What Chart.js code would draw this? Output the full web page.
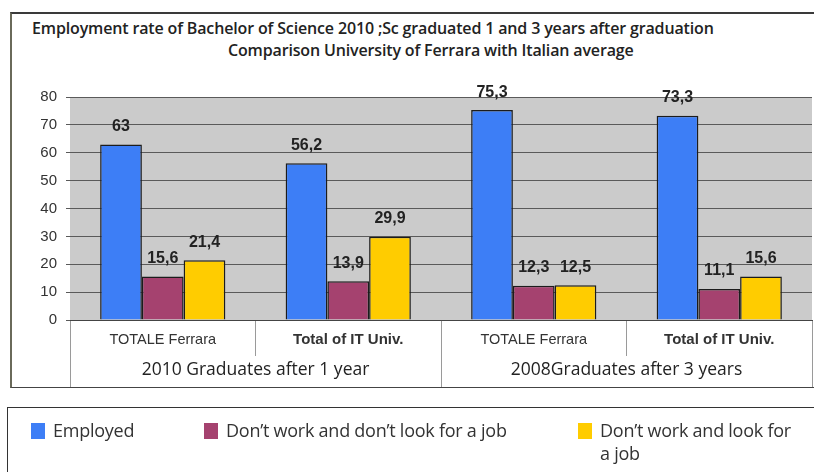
<!DOCTYPE html>
<html>
<head>
<meta charset="utf-8">
<script src="https://cdn.jsdelivr.net/npm/chart.js@4.4.1/dist/chart.umd.min.js"></script>
<style>
  html, body { margin: 0; padding: 0; background: #fff; }
  #wrap { position: relative; width: 814px; height: 472px; overflow: hidden; }
  #chart { position: absolute; left: 0; top: 0; }
  .frame { position: absolute; left: 10px; top: 12px; width: 810px; height: 373px;
           border-top: 2px solid #3a3a3a; border-left: 2px solid #6a6a5a; border-bottom: 1px solid #444; }
  .title { position: absolute; font-family: "Open Sans", sans-serif; font-weight: 600; font-size: 16px;
           color: #222; white-space: nowrap; letter-spacing: -0.15px; line-height: 20px; }
  #legend { position: absolute; left: 7px; top: 407px; width: 820px; height: 80px;
            border-top: 1px solid #333; border-left: 1px solid #333; }
  .item { position: absolute; top: 11px; font-family: "Open Sans", sans-serif; font-size: 18px;
          color: #333; line-height: 23px; letter-spacing: -0.25px; }
  .item i { position: absolute; left: -22px; top: 4px; width: 14px; height: 16px; }
</style>
</head>
<body>
<div id="wrap">
  <div class="frame"></div>
  <div class="title" style="left:32px; top:18px;">Employment rate of Bachelor of Science 2010 ;Sc graduated 1 and 3 years after graduation</div>
  <div class="title" style="left:228px; top:40px;">Comparison University of Ferrara with Italian average</div>
  <canvas id="chart" width="814" height="472"></canvas>
  <div id="legend"></div>
</div>
<script>
const categories = ["TOTALE Ferrara", "Total of IT Univ.", "TOTALE Ferrara", "Total of IT Univ."];
const groups = ["2010 Graduates after 1 year", "2008Graduates after 3 years"];
const seriesNames = ["Employed", "Don’t work and don’t look for a job", "Don’t work and look for a job"];
const employed = [63, 56.2, 75.3, 73.3];
const notLooking = [15.6, 13.9, 12.3, 11.1];
const looking = [21.4, 29.9, 12.5, 15.6];
const yTicks = [0, 10, 20, 30, 40, 50, 60, 70, 80];

const COLORS = ["#3d7ef6", "#a5426f", "#ffcc00"];
const legendX = [30, 203, 577];

const plotBg = {
  id: "plotBg",
  beforeDraw(chart) {
    const { ctx, chartArea: a } = chart;
    ctx.save();
    ctx.fillStyle = "#cbcbcb";
    ctx.fillRect(a.left, a.top, a.right - a.left, a.bottom - a.top);
    ctx.restore();
  },
};

const valueLabels = {
  id: "valueLabels",
  afterDatasetsDraw(chart) {
    const { ctx } = chart;
    ctx.save();
    ctx.font = "bold 16px 'Liberation Sans', Arial, sans-serif";
    ctx.fillStyle = "#222";
    ctx.textAlign = "center";
    ctx.textBaseline = "middle";
    chart.data.datasets.forEach((ds, i) => {
      chart.getDatasetMeta(i).data.forEach((bar, j) => {
        ctx.fillText(String(ds.data[j]).replace(".", ","), bar.x, bar.y - 18);
      });
    });
    ctx.restore();
  },
};

const chart = new Chart(document.getElementById("chart"), {
  type: "bar",
  data: {
    labels: categories,
    datasets: [
      { label: seriesNames[0], data: employed, backgroundColor: COLORS[0] },
      { label: seriesNames[1], data: notLooking, backgroundColor: COLORS[1] },
      { label: seriesNames[2], data: looking, backgroundColor: COLORS[2] },
    ].map(d => ({ ...d, borderColor: "#1c1c1c", borderWidth: 1.5, borderSkipped: "bottom",
                  categoryPercentage: 0.675, barPercentage: 1 })),
  },
  options: {
    responsive: false,
    animation: false,
    devicePixelRatio: 1,
    layout: { padding: { left: 0, top: 97, right: 2, bottom: 85 } },
    plugins: { legend: { display: false }, tooltip: { enabled: false } },
    scales: {
      y: {
        min: 0, max: 80,
        afterBuildTicks: (s) => { s.ticks = yTicks.map(v => ({ value: v })); },
        afterFit: (s) => { s.width = 70; },
        ticks: { color: "#333", padding: 9, font: { family: "'Liberation Sans', Arial", size: 15 } },
        grid: { color: "#5a5a5a", lineWidth: 1, tickLength: 4 },
        border: { display: false },
      },
      x: {
        afterFit: (s) => { s.height = 36; },
        grid: { drawOnChartArea: false, offset: true, tickLength: 36, color: "#9a9a9a" },
        border: { display: true, color: "#444", width: 1 },
        ticks: {
          color: "#333", padding: -25,
          font: (c) => ({ family: "'Liberation Sans', Arial", size: c.index % 2 ? 15 : 14.5, weight: c.index % 2 ? "bold" : "normal" }),
        },
      },
      x2: {
        type: "category",
        position: "bottom",
        labels: groups,
        offset: true,
        afterFit: (s) => { s.height = 31; },
        grid: { drawOnChartArea: false, offset: true, tickLength: 31, color: "#9a9a9a" },
        border: { display: false },
        ticks: { color: "#222", padding: -27, font: { family: "'Open Sans'", size: 17.5, weight: "500" } },
      },
    },
  },
  plugins: [plotBg, valueLabels],
});

// legend built from the datasets
const legend = document.getElementById("legend");
chart.data.datasets.forEach((ds, i) => {
  const el = document.createElement("div");
  el.className = "item";
  el.style.left = (legendX[i] - 7 + 22) + "px";
  if (i === 2) el.style.width = "196px";
  el.innerHTML = '<i style="background:' + ds.backgroundColor + '"></i>' + ds.label;
  legend.appendChild(el);
});
</script>
</body>
</html>
